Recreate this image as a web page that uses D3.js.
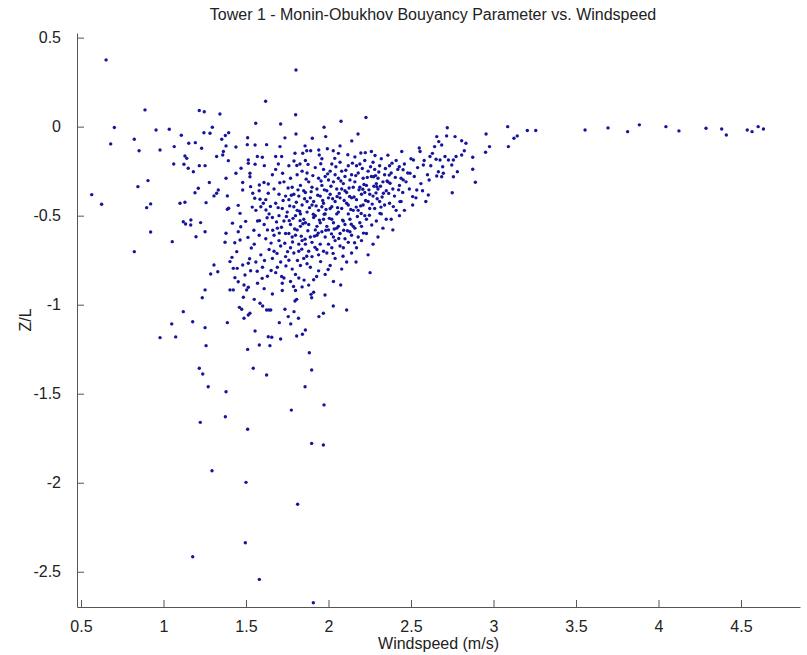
<!DOCTYPE html>
<html>
<head>
<meta charset="utf-8">
<script src="https://cdn.jsdelivr.net/npm/d3@7"></script>
<style>
  body { margin: 0; background: #fff; }
  .axis text { font-family: "Liberation Sans", Arial, sans-serif; font-size: 16px; fill: #222; }
  .axis path, .axis line { stroke: #555; }
</style>
</head>
<body>
<div id="scatter"></div>
<script>
// tick labels of both axes
var xTicks = [0.5, 1, 1.5, 2, 2.5, 3, 3.5, 4, 4.5];
var yTicks = [0.5, 0, -0.5, -1, -1.5, -2, -2.5];

// [windspeed, z/L] pairs, grouped per area
var leftScatter = [
  [0.652,0.375],[0.702,-0.005],[0.680,-0.097],[0.565,-0.382],[0.625,-0.436],
  [0.888,0.094],[0.823,-0.071],[0.852,-0.135],[0.955,-0.019],[1.035,-0.015],[0.979,-0.131],
  [1.065,-0.112],[1.108,-0.048],[1.062,-0.210],[1.124,-0.211],[1.130,-0.165],[1.141,-0.178],
  [1.153,-0.093],[1.193,-0.090],[1.231,-0.121],[1.150,-0.234],[1.181,-0.253],[1.217,-0.219],
  [1.252,-0.219],[1.217,0.091],[1.247,0.084],[1.342,0.071],[1.245,-0.034],[1.282,-0.037],
  [1.296,-0.003],[1.322,-0.168],[1.353,-0.071],[1.363,-0.140],[1.359,-0.159],[1.379,-0.108],
  [1.375,-0.050],[1.395,-0.034],[1.393,-0.191],[1.439,-0.114],[1.508,-0.101],[1.510,-0.062],
  [0.906,-0.303],[0.845,-0.337],[0.898,-0.455],[0.922,-0.434],[1.100,-0.430],[1.130,-0.425],
  [1.191,-0.371],[1.211,-0.346],[1.258,-0.427],[1.278,-0.314],[1.306,-0.389],[1.322,-0.374],
  [1.332,-0.356],[1.379,-0.290],[1.387,-0.389],[1.395,-0.458],[1.439,-0.262],[1.470,-0.234],
  [1.453,-0.442],[1.464,-0.487],[1.480,-0.314],[1.480,-0.356],
  [0.922,-0.592],[1.053,-0.646],[0.823,-0.702],[1.120,-0.534],[1.134,-0.547],[1.166,-0.524],
  [1.165,-0.552],[1.225,-0.539],[1.197,-0.618],[1.252,-0.590],[1.387,-0.464],[1.379,-0.599],
  [1.373,-0.649],[1.306,-0.777],[1.329,-0.815],[1.286,-0.828],[1.252,-0.917],[1.235,-0.961],
  [1.120,-1.039],[1.177,-1.096],[1.050,-1.108],[1.252,-1.129],[0.979,-1.185],[1.074,-1.181],
  [1.258,-1.230],[1.217,-1.357],[1.238,-1.389],[1.271,-1.461],[1.379,-1.489],[1.387,-1.101]
];

var upperFringe = [
  [1.803,0.318],[1.619,0.143],[1.801,0.067],[2.076,0.030],[2.227,0.051],[1.555,-0.103],
  [1.559,0.019],[1.625,-0.101],[1.706,-0.112],[1.710,0.015],[1.736,-0.063],[1.803,-0.041],
  [1.902,-0.065],[1.973,-0.003],[1.983,-0.056],[2.070,-0.108],[2.141,-0.080],[2.179,-0.041],
  [2.223,-0.146],[1.514,-0.187],[1.514,-0.206],[1.555,-0.211],[1.569,-0.168],[1.599,-0.172],
  [1.611,-0.219],[1.680,-0.168],[1.716,-0.168],[1.696,-0.210],[1.791,-0.193],[1.844,-0.149],
  [1.858,-0.108],[1.868,-0.135],[1.892,-0.135],[1.827,-0.210],[1.941,-0.131],[1.944,-0.159],
  [1.993,-0.124],[2.029,-0.135],[1.797,-0.149],[1.524,-0.262],[1.524,-0.281],[1.528,-0.337],
  [1.541,-0.374],[1.553,-0.402],[1.585,-0.408],[1.605,-0.430],[1.581,-0.328],[1.609,-0.314],
  [1.635,-0.322],[1.635,-0.374],[1.621,-0.468]
];

var lowerMiddle = [
  [1.403,-0.917],[1.423,-0.917],[1.403,-0.758],[1.415,-0.734],[1.444,-0.702],[1.464,-0.637],
  [1.453,-0.590],[1.423,-0.796],[1.447,-0.796],[1.433,-0.848],[1.453,-0.871],[1.460,-1.015],
  [1.474,-1.026],[1.488,-1.076],[1.514,-1.058],[1.524,-1.048],[1.484,-0.958],[1.488,-0.889],
  [1.504,-0.917],[1.514,-0.902],[1.480,-0.777],[1.514,-0.767],[1.494,-0.833],[1.528,-0.809],
  [1.550,-0.970],[1.555,-1.148],[1.510,-1.251],[1.544,-1.357],[1.581,-1.226],[1.625,-1.395],
  [1.635,-1.180],[1.656,-1.183],[1.645,-1.230],[1.585,-0.992],[1.601,-1.007],[1.625,-1.030],
  [1.639,-1.030],[1.650,-1.030],[1.702,-1.101],[1.710,-1.193],[1.736,-1.026],[1.756,-1.067],
  [1.771,-1.108],[1.791,-1.039],[1.807,-0.970],[1.797,-0.979],[1.818,-1.076],[1.807,-1.176],
  [1.842,-1.166],[1.860,-1.142],[1.884,-1.270],[1.898,-1.367],[1.858,-1.461],[1.894,-0.942],
  [1.898,-0.961],[1.942,-1.067],[1.969,-1.048],[1.979,-0.946],[2.029,-1.007],[2.074,-0.889],
  [2.110,-1.030],[2.167,-0.760],[2.252,-0.820]
];

var lowerTail = [
  [1.973,-1.563],[1.775,-1.592],[1.223,-1.661],[1.375,-1.629],[1.510,-1.700],[1.898,-1.779],
  [1.969,-1.788],[1.294,-1.933],[1.500,-1.998],[1.813,-2.121],[1.496,-2.337],[1.177,-2.416],
  [1.581,-2.543],[1.908,-2.674]
];

var denseCore = [
  [1.56,-0.47],[1.57,-0.53],[1.58,-0.61],[1.55,-0.66],[1.59,-0.72],[1.61,-0.55],[1.62,-0.63],
  [1.60,-0.79],[1.63,-0.84],[1.57,-0.88],[1.64,-0.49],[1.62,-0.41],[1.58,-0.36],[1.64,-0.69],
  [1.61,-0.91],[1.56,-0.76],[1.63,-0.58],[1.59,-0.45],
  [1.66,-0.27],[1.67,-0.35],[1.68,-0.43],[1.66,-0.51],[1.69,-0.57],[1.70,-0.64],[1.67,-0.70],
  [1.71,-0.76],[1.68,-0.82],[1.72,-0.88],[1.66,-0.94],[1.73,-0.31],[1.74,-0.39],[1.72,-0.46],
  [1.73,-0.53],[1.70,-0.50],[1.74,-0.60],[1.71,-0.67],[1.74,-0.73],[1.69,-0.79],[1.73,-0.85],
  [1.70,-0.38],[1.67,-0.61],[1.75,-0.48],[1.68,-0.24],[1.72,-0.92],[1.66,-0.74],
  [1.76,-0.22],[1.77,-0.29],[1.78,-0.34],[1.76,-0.41],[1.79,-0.45],[1.80,-0.50],[1.77,-0.55],
  [1.81,-0.58],[1.78,-0.62],[1.82,-0.66],[1.79,-0.71],[1.76,-0.75],[1.83,-0.78],[1.80,-0.83],
  [1.77,-0.87],[1.84,-0.90],[1.81,-0.27],[1.83,-0.33],[1.82,-0.39],[1.84,-0.44],[1.81,-0.47],
  [1.85,-0.52],[1.83,-0.56],[1.80,-0.61],[1.84,-0.64],[1.82,-0.70],[1.85,-0.74],[1.78,-0.80],
  [1.82,-0.85],[1.79,-0.38],[1.76,-0.60],[1.84,-0.25],[1.80,-0.92],[1.77,-0.68],[1.83,-0.49],
  [1.85,-0.36],
  [1.86,-0.19],[1.87,-0.26],[1.88,-0.31],[1.86,-0.37],[1.89,-0.40],[1.90,-0.44],[1.87,-0.48],
  [1.91,-0.51],[1.88,-0.55],[1.92,-0.58],[1.89,-0.62],[1.86,-0.66],[1.93,-0.69],[1.90,-0.73],
  [1.87,-0.77],[1.94,-0.81],[1.91,-0.86],[1.88,-0.89],[1.92,-0.23],[1.94,-0.29],[1.93,-0.35],
  [1.95,-0.39],[1.91,-0.42],[1.94,-0.47],[1.92,-0.50],[1.95,-0.54],[1.93,-0.61],[1.90,-0.65],
  [1.94,-0.72],[1.89,-0.79],[1.86,-0.54],[1.95,-0.66],[1.90,-0.34],[1.87,-0.42],[1.93,-0.56],
  [1.88,-0.70],[1.91,-0.93],
  [1.96,-0.18],[1.97,-0.24],[1.98,-0.28],[1.96,-0.33],[1.99,-0.36],[2.00,-0.40],[1.97,-0.43],
  [2.01,-0.46],[1.98,-0.49],[2.02,-0.52],[1.99,-0.56],[1.96,-0.59],[2.03,-0.62],[2.00,-0.66],
  [1.97,-0.70],[2.04,-0.74],[2.01,-0.78],[1.98,-0.83],[2.02,-0.21],[2.04,-0.27],[2.03,-0.31],
  [2.05,-0.35],[2.01,-0.38],[2.04,-0.42],[2.02,-0.45],[2.05,-0.49],[2.03,-0.54],[2.00,-0.58],
  [2.04,-0.64],[1.99,-0.71],[2.05,-0.57],[1.97,-0.52],[2.02,-0.68],[2.00,-0.30],[1.96,-0.45],
  [2.03,-0.87],[2.01,-0.25],[1.98,-0.62],
  [2.06,-0.15],[2.07,-0.20],[2.08,-0.25],[2.06,-0.29],[2.09,-0.32],[2.10,-0.36],[2.07,-0.40],
  [2.11,-0.43],[2.08,-0.46],[2.12,-0.49],[2.09,-0.53],[2.06,-0.56],[2.13,-0.59],[2.10,-0.63],
  [2.07,-0.67],[2.14,-0.71],[2.11,-0.76],[2.08,-0.80],[2.12,-0.22],[2.14,-0.27],[2.13,-0.30],
  [2.15,-0.34],[2.11,-0.37],[2.14,-0.40],[2.12,-0.44],[2.15,-0.47],[2.13,-0.52],[2.10,-0.55],
  [2.14,-0.61],[2.09,-0.68],[2.06,-0.48],[2.15,-0.56],[2.08,-0.35],[2.12,-0.65],[2.07,-0.60],
  [2.10,-0.28],
  [2.16,-0.17],[2.17,-0.22],[2.18,-0.26],[2.16,-0.31],[2.19,-0.34],[2.20,-0.38],[2.17,-0.41],
  [2.21,-0.44],[2.18,-0.47],[2.22,-0.50],[2.19,-0.54],[2.16,-0.57],[2.23,-0.60],[2.20,-0.64],
  [2.17,-0.68],[2.24,-0.72],[2.21,-0.29],[2.23,-0.33],[2.22,-0.37],[2.24,-0.42],[2.25,-0.46],
  [2.23,-0.52],[2.20,-0.56],[2.24,-0.25],[2.19,-0.21],[2.25,-0.38],[2.18,-0.62],[2.22,-0.19],
  [2.26,-0.14],[2.27,-0.20],[2.28,-0.24],[2.26,-0.28],[2.29,-0.32],[2.30,-0.35],[2.27,-0.39],
  [2.31,-0.42],[2.28,-0.46],[2.32,-0.49],[2.29,-0.53],[2.33,-0.57],[2.30,-0.62],[2.34,-0.27],
  [2.33,-0.31],[2.35,-0.36],[2.31,-0.22],[2.34,-0.44],[2.32,-0.18],[2.27,-0.66],[2.35,-0.52],
  [2.30,-0.29],
  [2.36,-0.16],[2.37,-0.22],[2.38,-0.26],[2.36,-0.31],[2.39,-0.35],[2.40,-0.39],[2.37,-0.43],
  [2.41,-0.47],[2.38,-0.52],[2.42,-0.24],[2.44,-0.29],[2.43,-0.33],[2.45,-0.37],[2.41,-0.19],
  [2.44,-0.42],[2.39,-0.58],[2.43,-0.50]
];

// nog meer punten in het drukste deel van de wolk
var denseExtra = [
  [1.705,-0.315],[1.725,-0.415],[1.745,-0.505],[1.715,-0.565],[1.735,-0.655],[1.695,-0.455],
  [1.685,-0.535],[1.755,-0.345],[1.765,-0.445],[1.775,-0.385],[1.785,-0.515],[1.795,-0.575],
  [1.805,-0.425],[1.815,-0.355],[1.825,-0.475],[1.835,-0.615],[1.845,-0.545],[1.855,-0.405],
  [1.865,-0.295],[1.875,-0.585],[1.885,-0.455],[1.895,-0.365],[1.905,-0.275],[1.915,-0.615],
  [1.925,-0.445],[1.935,-0.385],[1.945,-0.525],[1.955,-0.305],[1.965,-0.415],[1.975,-0.355],
  [1.985,-0.465],[1.995,-0.265],[2.005,-0.515],[2.015,-0.335],[2.025,-0.405],[2.035,-0.575],
  [2.045,-0.225],[2.055,-0.455],[2.065,-0.375],[2.075,-0.305],[2.085,-0.525],[2.095,-0.415],
  [2.105,-0.245],[2.115,-0.585],[2.125,-0.345],[2.135,-0.465],[2.145,-0.205],[2.155,-0.395],
  [2.165,-0.275],[2.175,-0.505],[2.185,-0.355],[2.195,-0.445],[2.205,-0.235],[2.215,-0.325],
  [2.225,-0.415],[2.235,-0.285],[2.245,-0.355],[2.255,-0.225],[2.265,-0.435],[2.275,-0.335],
  [2.285,-0.275],[2.295,-0.405],[2.305,-0.255],[2.315,-0.335],[2.325,-0.395],[2.345,-0.235],
  [2.355,-0.305],[2.365,-0.375],[2.385,-0.205],[2.405,-0.285],[2.425,-0.355],
  [1.722,-0.262],[1.808,-0.218],[1.876,-0.212],[1.953,-0.208],[2.038,-0.178],[2.117,-0.158],
  [2.196,-0.148],[2.282,-0.162],[1.648,-0.448],[1.662,-0.582],[1.652,-0.654],[1.688,-0.712],
  [1.742,-0.782],[1.812,-0.752],[1.868,-0.728],[1.952,-0.758],[2.028,-0.712],[2.088,-0.728],
  [2.158,-0.652],[2.212,-0.598],[2.262,-0.552],[2.318,-0.452],[1.612,-0.752],[1.598,-0.852],
  [1.652,-0.808],[1.716,-0.842],[1.788,-0.898],[1.852,-0.862],[1.928,-0.842],[1.998,-0.802],
  [1.582,-0.528],[1.628,-0.512],[1.702,-0.598],[1.762,-0.528],[1.838,-0.688],[1.918,-0.678],
  [1.984,-0.582],[2.062,-0.628],[2.138,-0.548],[2.198,-0.488],[2.248,-0.498],[1.782,-0.648],
  [1.858,-0.632],[1.938,-0.598],[2.018,-0.602],[2.092,-0.582],[2.168,-0.452],[1.752,-0.702],
  [1.828,-0.528],[1.908,-0.492],[1.974,-0.492],[2.052,-0.392],[2.128,-0.392],[2.208,-0.352],
  [2.288,-0.372],[2.368,-0.272],[2.452,-0.242],[1.548,-0.582],[1.532,-0.682],[1.538,-0.452],
  [1.568,-0.812],[1.522,-0.742],[1.512,-0.622],[1.498,-0.532],[1.468,-0.562],[1.432,-0.652],
  [1.418,-0.542]
];

var rightTail = [
  [2.46,-0.21],[2.48,-0.26],[2.47,-0.31],[2.50,-0.18],[2.52,-0.28],[2.49,-0.35],[2.54,-0.23],
  [2.56,-0.32],[2.53,-0.40],[2.58,-0.19],[2.60,-0.27],[2.57,-0.36],[2.62,-0.22],[2.61,-0.30],
  [2.51,-0.44],[2.46,-0.47],[2.63,-0.15],[2.55,-0.12],[2.59,-0.42],
  [2.575,-0.215],[2.555,-0.140],[2.515,-0.187],[2.494,-0.262],[2.429,-0.225],[2.444,-0.140],
  [2.615,-0.168],[2.605,-0.384],[2.535,-0.356],[2.510,-0.393],[2.373,-0.318],[2.333,-0.374],
  [2.453,-0.299],[2.293,-0.337],[2.273,-0.281],[2.393,-0.449],[2.312,-0.487],[2.433,-0.421],
  [2.720,-0.006],[2.716,-0.052],[2.767,-0.056],[2.807,-0.079],[2.833,-0.093],[2.656,-0.056],
  [2.668,-0.084],[2.686,-0.103],[2.643,-0.112],[2.955,-0.041],[2.976,-0.112],[2.952,-0.144],
  [3.086,0.000],[3.090,-0.112],[3.124,-0.065],[3.144,-0.052],[3.205,-0.022],[3.256,-0.022],
  [2.874,-0.172],[2.874,-0.239],[2.890,-0.312],[2.823,-0.135],[2.807,-0.159],[2.750,-0.371],
  [2.773,-0.168],[2.757,-0.187],[2.747,-0.215],[2.781,-0.253],[2.757,-0.281],[2.727,-0.187],
  [2.706,-0.168],[2.652,-0.183],[2.676,-0.187],[2.692,-0.225],[2.666,-0.253],[2.696,-0.262],
  [2.656,-0.277],[2.686,-0.281],
  [3.555,-0.019],[3.694,-0.007],[3.813,-0.028],[3.884,0.010],[4.045,0.000],[4.124,-0.024],
  [4.288,-0.009],[4.383,-0.013],[4.411,-0.047],[4.538,-0.019],[4.567,-0.028],[4.604,0.000],
  [4.636,-0.013]
];

// alle groepen samen
var points = [].concat(leftScatter, upperFringe, lowerMiddle, lowerTail, denseCore, denseExtra, rightTail);

// margins van de plot
var margin = {top: 33, right: 7, bottom: 48, left: 77};
var width = 807 - margin.left - margin.right;
var height = 655 - margin.top - margin.bottom;

var svg = d3.select('#scatter')
  .append('svg')
  .attr('width', 807)
  .attr('height', 655);

var plot = svg.append('g')
  .attr('transform', 'translate(' + margin.left + ',' + margin.top + ')');

// schalen
var xScale = d3.scaleLinear()
  .domain([0.4758, 4.8576])
  .range([0, width]);

var yScale = d3.scaleLinear()
  .domain([0.526, -2.698])
  .range([0, height]);

// tick labels zoals matlab ze schrijft
function tickText(d){ return String(d); }

// assen met de ticks naar binnen (matlab stijl)
var xAxis = d3.axisBottom(xScale)
  .tickValues(xTicks)
  .tickFormat(tickText)
  .tickSizeInner(-7)
  .tickSizeOuter(0)
  .tickPadding(14);

var yAxis = d3.axisLeft(yScale)
  .tickValues(yTicks)
  .tickFormat(tickText)
  .tickSizeInner(-7)
  .tickSizeOuter(0)
  .tickPadding(16);

plot.append('g')
  .attr('class', 'x axis')
  .attr('transform', 'translate(0,' + height + ')')
  .call(xAxis);

plot.append('g')
  .attr('class', 'y axis')
  .call(yAxis);

// de puntjes
plot.selectAll('.dot')
  .data(points)
  .enter().append('circle')
  .attr('class', 'dot')
  .attr('cx', function(d){ return xScale(d[0]); })
  .attr('cy', function(d){ return yScale(d[1]); })
  .attr('r', 1.7)
  .style('fill', '#15159c');

// titel
svg.append('text')
  .attr('x', 433)
  .attr('y', 20)
  .attr('text-anchor', 'middle')
  .attr('font-family', 'Liberation Sans, Arial, sans-serif')
  .attr('font-size', 16)
  .attr('fill', '#222')
  .text('Tower 1 - Monin-Obukhov Bouyancy Parameter vs. Windspeed');

// label x-as
svg.append('text')
  .attr('x', margin.left + width / 2)
  .attr('y', 649)
  .attr('text-anchor', 'middle')
  .attr('font-family', 'Liberation Sans, Arial, sans-serif')
  .attr('font-size', 16)
  .attr('fill', '#222')
  .text('Windspeed (m/s)');

// label y-as
svg.append('text')
  .attr('transform', 'translate(31,' + (margin.top + height / 2) + ') rotate(-90)')
  .attr('text-anchor', 'middle')
  .attr('font-family', 'Liberation Sans, Arial, sans-serif')
  .attr('font-size', 16)
  .attr('fill', '#222')
  .text('Z/L');
</script>
</body>
</html>
